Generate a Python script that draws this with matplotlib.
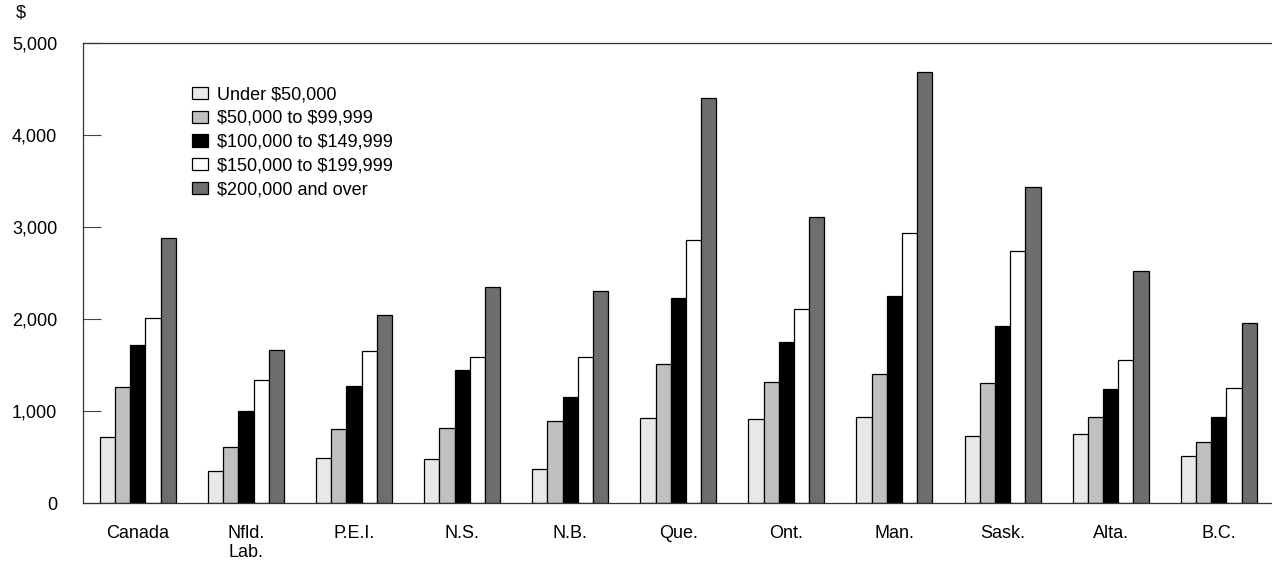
import matplotlib.pyplot as plt
import numpy as np

plt.rcParams['font.family'] = ['Liberation Sans', 'DejaVu Sans']

provinces = ["Canada", "Nfld.\nLab.", "P.E.I.", "N.S.", "N.B.", "Que.",
             "Ont.", "Man.", "Sask.", "Alta.", "B.C."]

series = ["Under $50,000", "$50,000 to $99,999", "$100,000 to $149,999",
          "$150,000 to $199,999", "$200,000 and over"]

under_50k = [717, 348, 489, 485, 370, 924, 916, 935, 735, 750, 511]
k50_100 = [1267, 615, 804, 818, 895, 1514, 1322, 1409, 1308, 935, 663]
k100_150 = [1717, 1000, 1275, 1449, 1155, 2228, 1757, 2253, 1927, 1246, 942]
k150_200 = [2014, 1344, 1659, 1587, 1594, 2862, 2112, 2935, 2739, 1558, 1250]
over_200k = [2880, 1663, 2047, 2351, 2308, 4409, 3116, 4691, 3438, 2529, 1960]

colours = ["#e8e8e8", "#c0c0c0", "#000000", "#ffffff", "#6e6e6e"]

fig = plt.figure(figsize=(12.72, 5.65), dpi=100)
ax = fig.add_axes([0.0655, 0.1092, 0.9345, 0.8142])

x = np.arange(len(provinces))
w = 0.1406
for i, (vals, c, name) in enumerate(zip([under_50k, k50_100, k100_150, k150_200, over_200k],
                                        colours, series)):
    # escape the dollar signs so they aren't read as mathtext
    ax.bar(x + (i - 2) * w, vals, width=w, color=c, edgecolor="black",
           linewidth=0.9, label=name.replace("$", r"\$"))

ax.set_xlim(-0.505, 10.493)
ax.set_ylim(0, 5000)
ax.set_yticks([0, 1000, 2000, 3000, 4000, 5000])
ax.set_yticklabels(["0", "1,000", "2,000", "3,000", "4,000", "5,000"])
ax.set_xticks(x)
ax.set_xticklabels(provinces)

ax.tick_params(axis="y", direction="in", length=13, width=0.8, color="#444444",
               pad=18.7, labelsize=13)
ax.tick_params(axis="x", length=0, pad=15.5, labelsize=13)
for t in ax.get_xticklabels():
    t.set_verticalalignment("top")
    t.set_linespacing(1.2)

ax.spines["right"].set_visible(False)
for s in ["left", "top", "bottom"]:
    ax.spines[s].set_color("#333333")
    ax.spines[s].set_linewidth(0.9)

fig.text(21 / 1272, 1 - 13 / 565, r"\$", fontsize=13, ha="center", va="center")

ax.legend(loc="upper left", bbox_to_anchor=(0.0856, 0.9226), frameon=False,
          fontsize=13, handlelength=0.87, handleheight=0.65, handletextpad=0.52,
          labelspacing=0.38, borderaxespad=0)

fig.savefig("out.png", dpi=100)
